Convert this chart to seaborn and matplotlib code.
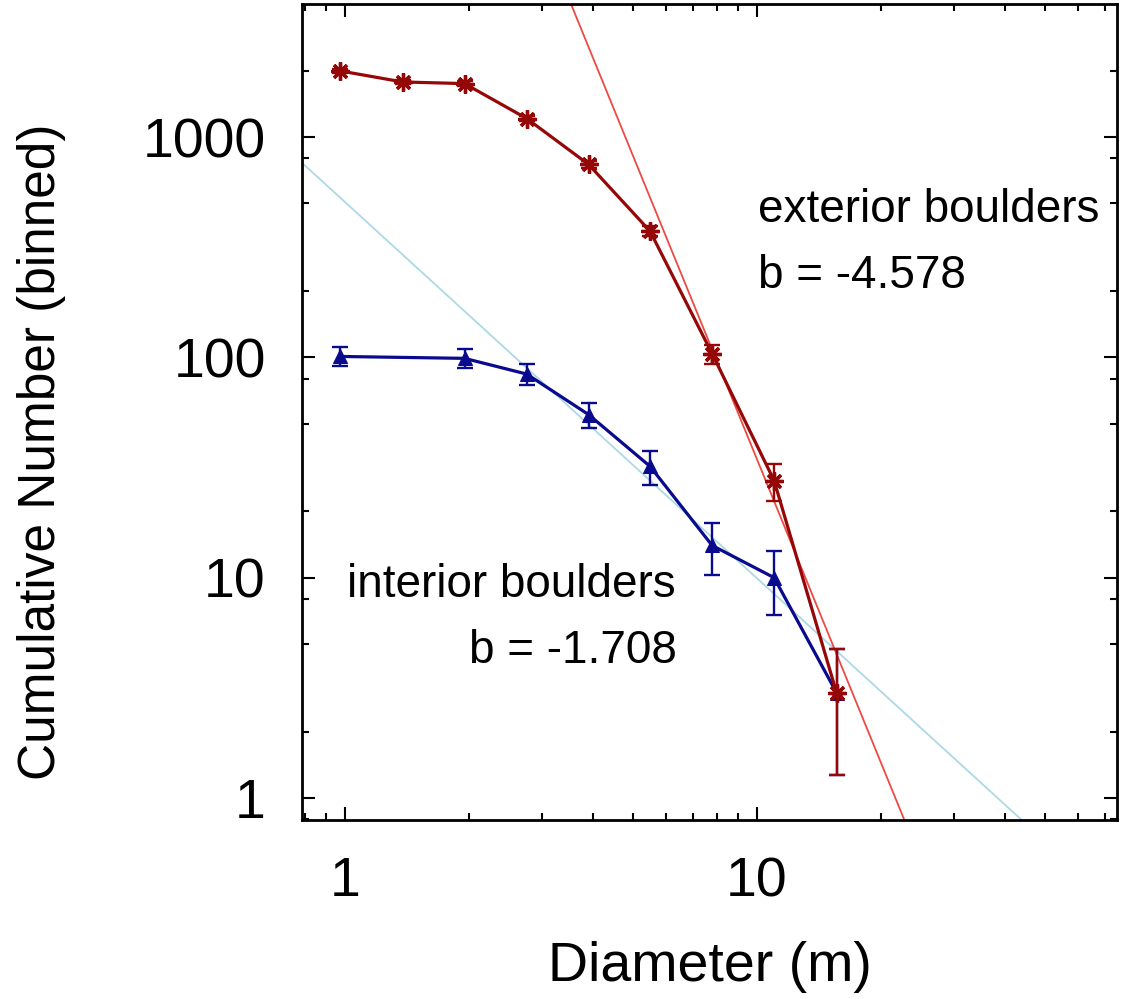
import numpy as np
import matplotlib
matplotlib.use("Agg")
import matplotlib.pyplot as plt
import seaborn as sns
from matplotlib import ticker

# exterior boulders (cumulative counts per sqrt(2) bin)
diam_ext = [0.97, 1.38, 1.95, 2.76, 3.90, 5.50, 7.78, 11.0, 15.6]
count_ext = [2000, 1780, 1750, 1215, 752, 374, 104, 27.6, 3]
err_ext = [44.7, 42.2, 41.8, 34.9, 27.4, 19.3, 10.2, 5.3, 1.73]

# interior boulders
diam_int = [0.97, 1.95, 2.76, 3.90, 5.50, 7.78, 11.0, 15.6]
count_int = [101, 99, 84, 55, 32, 14, 10, 3]
err_int = [10.0, 9.9, 9.2, 7.4, 5.7, 3.7, 3.2, 1.73]

# power law fits N = A * D^b
amp_ext, b_ext = 1.303e6, -4.578
amp_int, b_int = 507.0, -1.708

xlim = (0.786, 74.8)
ylim = (0.794, 4022)

sns.set_style("ticks")
plt.rcParams['font.family'] = ['Liberation Sans', 'DejaVu Sans']
plt.rcParams['text.color'] = 'black'
plt.rcParams['axes.labelcolor'] = 'black'
plt.rcParams['xtick.color'] = 'black'
plt.rcParams['ytick.color'] = 'black'

c_ext = '#960808'
c_ext_fit = '#ee4a44'
c_int = '#0a0a8e'
c_int_fit = '#add8e6'

fig = plt.figure(figsize=(11.23, 9.99), dpi=100)
ax = fig.add_axes([0.2689, 0.1792, 0.7258, 0.8168])
ax.set_xscale('log')
ax.set_yscale('log')

fit_x = np.array(xlim)
sns.lineplot(x=fit_x, y=amp_int * fit_x ** b_int, color=c_int_fit, lw=1.3, ax=ax)
sns.lineplot(x=fit_x, y=amp_ext * fit_x ** b_ext, color=c_ext_fit, lw=1.3, ax=ax)

# interior data
ax.errorbar(diam_int, count_int, yerr=err_int, fmt='none', ecolor=c_int,
            elinewidth=1.7, capsize=6, capthick=1.7)
sns.lineplot(x=diam_int, y=count_int, color=c_int, lw=2.3, marker='^',
             markersize=10, markeredgecolor=c_int, ax=ax)

# exterior data
ax.errorbar(diam_ext, count_ext, yerr=err_ext, fmt='none', ecolor=c_ext,
            elinewidth=1.7, capsize=6, capthick=1.7)
sns.lineplot(x=diam_ext, y=count_ext, color=c_ext, lw=2.3, marker=(8, 2, 0),
             markersize=13, markeredgecolor=c_ext, markeredgewidth=2.4, ax=ax)

ax.set_xlim(*xlim)
ax.set_ylim(*ylim)

ax.xaxis.set_major_locator(ticker.FixedLocator([1, 10]))
ax.xaxis.set_minor_locator(ticker.LogLocator(base=10, subs=np.arange(2, 10), numticks=20))
ax.yaxis.set_major_locator(ticker.FixedLocator([1, 10, 100, 1000]))
ax.yaxis.set_minor_locator(ticker.LogLocator(base=10, subs=(2, 5, 8), numticks=20))
fmt = ticker.FuncFormatter(lambda v, p: f'{v:g}')
ax.xaxis.set_major_formatter(fmt)
ax.yaxis.set_major_formatter(fmt)
ax.xaxis.set_minor_formatter(ticker.NullFormatter())
ax.yaxis.set_minor_formatter(ticker.NullFormatter())

ax.tick_params(which='both', direction='in', top=True, right=True, width=1.5,
               color='black', labelcolor='black', labelsize=40, pad=26)
ax.tick_params(which='major', length=9.5)
ax.tick_params(which='minor', length=5)
for s in ax.spines.values():
    s.set_linewidth(2.0)
    s.set_color('black')

ax.set_xlabel('Diameter (m)', fontsize=40, color='black')
ax.set_ylabel('Cumulative Number (binned)', fontsize=37, color='black')
ax.xaxis.set_label_coords(0.5, -0.148)
ax.yaxis.set_label_coords(-0.29, 0.451)

ax.text(0.5595, 0.733, 'exterior boulders', transform=ax.transAxes,
        fontsize=33, ha='left', va='baseline', color='black')
ax.text(0.5595, 0.652, 'b = -4.578', transform=ax.transAxes,
        fontsize=33, ha='left', va='baseline', color='black')
ax.text(0.055, 0.273, 'interior boulders', transform=ax.transAxes,
        fontsize=33, ha='left', va='baseline', color='black')
ax.text(0.460, 0.192, 'b = -1.708', transform=ax.transAxes,
        fontsize=33, ha='right', va='baseline', color='black')

fig.savefig('out.png', dpi=100)
